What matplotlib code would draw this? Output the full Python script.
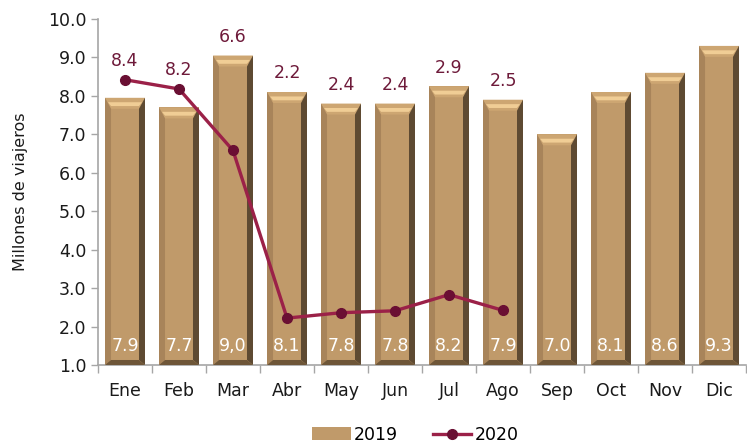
import matplotlib
matplotlib.use("Agg")
import matplotlib.pyplot as plt
from matplotlib.patches import Polygon
import numpy as np

meses = ['Ene', 'Feb', 'Mar', 'Abr', 'May', 'Jun', 'Jul', 'Ago', 'Sep', 'Oct', 'Nov', 'Dic']
v2019 = [7.95, 7.7, 9.05, 8.1, 7.8, 7.8, 8.25, 7.9, 7.0, 8.1, 8.6, 9.3]
etiq2019 = ['7.9', '7.7', '9,0', '8.1', '7.8', '7.8', '8.2', '7.9', '7.0', '8.1', '8.6', '9.3']
v2020 = [8.42, 8.18, 6.58, 2.22, 2.36, 2.41, 2.83, 2.42]
etiq2020 = ['8.4', '8.2', '6.6', '2.2', '2.4', '2.4', '2.9', '2.5']

plt.rcParams['font.family'] = ['DejaVu Sans']

fig = plt.figure(figsize=(7.47, 4.45), dpi=100)
ax = fig.add_axes([0.1312, 0.1798, 0.8675, 0.7775])

base = 1.0
x = np.arange(len(meses))
ancho = 0.74
cara = '#c09a6a'

ax.set_xlim(-0.5, 11.5)
ax.set_ylim(1.0, 10.0)

bars = ax.bar(x, np.array(v2019) - base, ancho, bottom=base, color=cara,
              edgecolor='none', label='2019', zorder=2)

# bisel, medidas en pixeles
bb = ax.get_window_extent()
px_x = bb.width / 12.0
px_y = bb.height / 9.0
bx = 6 / px_x
by = 11 / px_y
bbot = 5 / px_y
for b in bars:
    x0 = b.get_x()
    x1 = x0 + b.get_width()
    y0 = b.get_y()
    y1 = y0 + b.get_height()
    top = Polygon([[x0, y1], [x1, y1], [x1 - bx, y1 - by], [x0 + bx, y1 - by]],
                  closed=True, color='#cda672', lw=0, zorder=3)
    left = Polygon([[x0, y0], [x0, y1], [x0 + bx, y1 - by], [x0 + bx, y0 + bbot]],
                   closed=True, color='#a8845a', lw=0, zorder=3)
    right = Polygon([[x1, y0], [x1, y1], [x1 - bx, y1 - by], [x1 - bx, y0 + bbot]],
                    closed=True, color='#5e4a32', lw=0, zorder=3)
    bot = Polygon([[x0, y0], [x1, y0], [x1 - bx, y0 + bbot], [x0 + bx, y0 + bbot]],
                  closed=True, color='#6e5638', lw=0, zorder=3)
    for p in (top, left, right, bot):
        ax.add_patch(p)
    hl = Polygon([[x0 + bx * 0.5, y1 - by * 0.4], [x1 - bx * 0.5, y1 - by * 0.4],
                  [x1 - bx, y1 - by * 0.75], [x0 + bx, y1 - by * 0.75]],
                 closed=True, color='#f0cd95', lw=0, zorder=3)
    ax.add_patch(hl)

for xi, t in zip(x, etiq2019):
    ax.annotate(t, (xi, base), xytext=(0, 14), textcoords='offset points',
                ha='center', va='center', color='white', fontsize=12.5, zorder=5)

n = len(v2020)
ax.plot(x[:n], v2020, color='#9b2148', lw=2.4, marker='o', markersize=7,
        markerfacecolor='#6a0f33', markeredgecolor='#6a0f33', label='2020', zorder=6)

for xi, yb, yl, t in zip(x[:n], v2019[:n], v2020, etiq2020):
    ax.annotate(t, (xi, max(yb, yl)), xytext=(0, 7), textcoords='offset points',
                ha='center', va='bottom', color='#6e1a3a', fontsize=12.5, zorder=7)

ax.set_yticks(np.arange(1, 10.5, 1.0))
ax.set_yticklabels(['%.1f' % v for v in np.arange(1, 10.5, 1.0)])
ax.set_xticks(x)
ax.set_xticklabels(meses)
ax.set_xticks(np.arange(-0.5, 12, 1.0), minor=True)
ax.tick_params(axis='x', which='major', length=0, pad=12, labelsize=12.5, labelcolor='#1a1a1a')
ax.tick_params(axis='x', which='minor', length=6, color='#a6a6a6', width=1)
ax.tick_params(axis='y', length=5, color='#a6a6a6', width=1, labelsize=12.5, labelcolor='#1a1a1a')

for s in ['top', 'right']:
    ax.spines[s].set_visible(False)
for s in ['left', 'bottom']:
    ax.spines[s].set_color('#a6a6a6')
    ax.spines[s].set_linewidth(1.2)

ax.set_ylabel('Millones de viajeros', fontsize=11.5, color='#1a1a1a', labelpad=14)

h, l = ax.get_legend_handles_labels()
orden = [l.index('2019'), l.index('2020')]
ax.legend([h[i] for i in orden], [l[i] for i in orden],
          loc='upper center', bbox_to_anchor=(0.49, -0.13), ncol=2, frameon=False,
          fontsize=12.5, handlelength=2.2, columnspacing=2.0, handletextpad=0.2)

fig.savefig('out.png', dpi=100)
